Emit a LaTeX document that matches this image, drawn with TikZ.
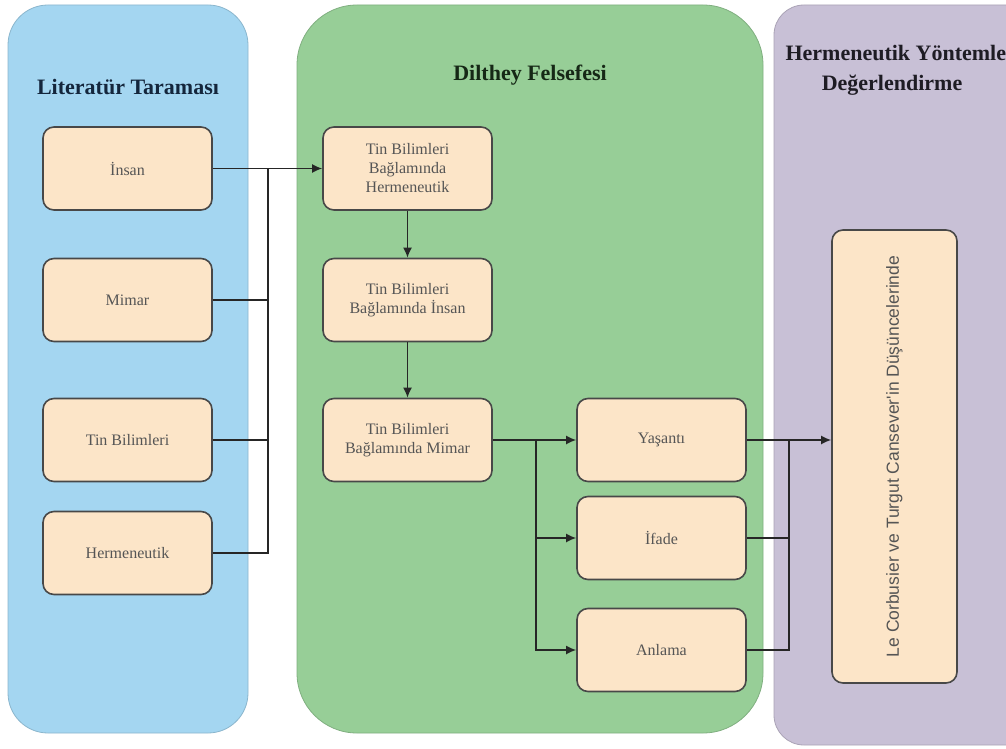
\documentclass[tikz,border=0pt]{standalone}
\usepackage{fontspec}
\setmainfont{Liberation Serif}
\newfontfamily\lecfont{Liberation Sans}
\usetikzlibrary{positioning,calc,arrows.meta}

\definecolor{laneblue}{RGB}{164,214,241}
\definecolor{lanegreen}{RGB}{151,206,151}
\definecolor{lanepurple}{RGB}{200,192,214}
\definecolor{boxfill}{RGB}{252,229,200}
\definecolor{boxline}{RGB}{72,72,72}
\definecolor{boxtext}{RGB}{85,85,85}

\begin{document}
\begin{tikzpicture}[x=1pt,y=-1pt,
    lane/.style={rounded corners=#1,line width=0.8pt},
    lanetitle/.style={font=\fontsize{22}{26}\selectfont\bfseries,align=center},
    box/.style={draw=boxline,fill=boxfill,rounded corners=11pt,line width=1.6pt,
        minimum width=169pt,minimum height=83pt,inner sep=2pt,align=center,
        text=boxtext,font=\fontsize{16}{19}\selectfont},
    link/.style={draw=black!85,line width=1.6pt},
    arr/.style={link,-{Latex[length=10pt,width=9pt]}}
    ]
\useasboundingbox (0,0) rectangle (1006,749);
\clip (0,0) rectangle (1006,749);

% Lanes
\fill[white] (0,0) rectangle (1006,749);
\draw[lane=40pt,fill=laneblue,draw=laneblue!85!black] (8,5) rectangle (248,733);
\draw[lane=60pt,fill=lanegreen,draw=lanegreen!85!black] (297,5) rectangle (763,733);
\draw[lane=30pt,fill=lanepurple,draw=lanepurple!85!black] (774,5) rectangle (1040,745);

\node[lanetitle,text={rgb,255:red,20;green,38;blue,60}] (tblue) at (128,87) {Literatür Taraması};
\node[lanetitle,text={rgb,255:red,22;green,40;blue,22}] (tgreen) at (530,75) {Dilthey Felsefesi};
\node[lanetitle,text={rgb,255:red,30;green,28;blue,36},anchor=west] (tpurpleA) at (782,53) {Hermeneutik Yöntemle};
\node[lanetitle,text={rgb,255:red,30;green,28;blue,36}] (tpurpleB) at (892,85) {Değerlendirme};

% Literature boxes
\node[box] (insan) at (127.5,168.5) {İnsan};
\node[box] (mimar) at (127.5,300) {Mimar};
\node[box] (tin) at (127.5,440) {Tin Bilimleri};
\node[box] (herm) at (127.5,553) {Hermeneutik};

% Dilthey boxes
\node[box] (tbh) at (407.5,168.5) {Tin Bilimleri\\Bağlamında\\Hermeneutik};
\node[box] (tbi) at (407.5,300) {Tin Bilimleri\\Bağlamında İnsan};
\node[box] (tbm) at (407.5,440) {Tin Bilimleri\\Bağlamında Mimar};
\node[box] (yasanti) at (661.5,440) {Yaşantı};
\node[box] (ifade) at (661.5,538) {İfade};
\node[box] (anlama) at (661.5,650) {Anlama};

% Evaluation box
\node[box,minimum width=125pt,minimum height=453pt] (lec) at (894.5,456.5) {};
\node[rotate=90,text=boxtext,font=\lecfont\fontsize{17.5}{20}\selectfont] (lectext) at (lec.center) {Le Corbusier ve Turgut Cansever'in Düşüncelerinde};

% Left bus
\coordinate (lbus) at (268,168.5);
\draw[arr] (insan.east) -- (tbh.west);
\draw[link] (herm.east) -| (lbus);
\draw[link] (mimar.east) -- (mimar.east -| lbus);
\draw[link] (tin.east) -- (tin.east -| lbus);

% Vertical chain
\draw[arr] (tbh) -- (tbi);
\draw[arr] (tbi) -- (tbm);

% Middle bus
\coordinate (mbus) at (536,440);
\draw[arr] (tbm.east) -- (yasanti.west);
\draw[arr] (mbus) |- (anlama.west);
\draw[arr] (mbus |- ifade.west) -- (ifade.west);

% Right bus
\coordinate (rbus) at (789,440);
\draw[arr] (yasanti.east) -- (lec.west |- yasanti.east);
\draw[link] (anlama.east) -| (rbus);
\draw[link] (ifade.east) -- (ifade.east -| rbus);

\end{tikzpicture}
\end{document}
